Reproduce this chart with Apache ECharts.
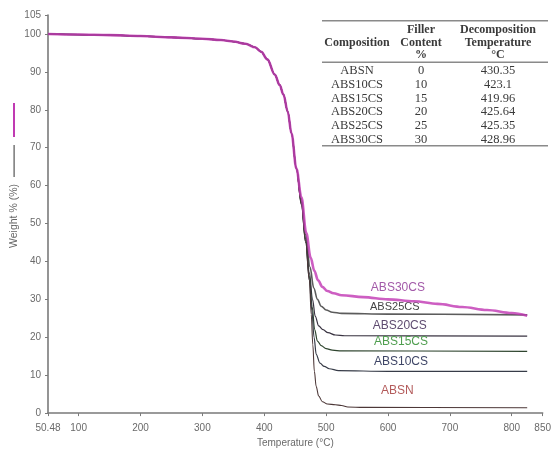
<!DOCTYPE html>
<html>
<head>
<meta charset="utf-8">
<script src="https://cdn.jsdelivr.net/npm/echarts@6/dist/echarts.min.js"></script>
<style>
  html, body { margin: 0; padding: 0; background: #fff; }
  #chart { width: 554px; height: 453px; }
</style>
</head>
<body>
<div id="chart"></div>
<script>
// TGA curves: [temperature °C, weight %]
const earlyStage = [
  [50.48, 100], [100, 99.85], [150, 99.7], [200, 99.45], [250, 99.1], [300, 98.75],
  [330, 98.4], [350, 98.0], [370, 97.4], [385, 96.5], [395, 95.3], [405, 93.3],
  [417, 89.3], [425, 86.5], [431, 84], [438, 79.5], [444, 73.8], [452, 64.5]
];
const absnTail = [
  [460, 55], [467, 45], [473, 35], [476, 26], [478.5, 18], [481, 11], [484, 7],
  [488, 4.5], [494, 3], [502, 2.4], [515, 2.2], [525, 2.0], [535, 1.6], [560, 1.5], [825, 1.4]
];
const abs10Tail = [
  [460, 55], [467, 45], [473, 35], [477, 27], [480.5, 20], [484, 15.5], [490, 13.2],
  [497, 12.3], [505, 11.7], [520, 11.2], [600, 11.0], [825, 11.0]
];
const abs15Tail = [
  [460, 55.5], [467, 45.5], [473, 36], [477.5, 28], [481.5, 22], [486, 19], [492, 17.8],
  [500, 17.0], [510, 16.6], [525, 16.4], [825, 16.3]
];
const abs20Tail = [
  [460, 56], [467, 46], [473, 37], [478, 30], [482.5, 25.5], [488, 23], [495, 22],
  [503, 21.2], [515, 20.6], [530, 20.4], [825, 20.3]
];
const abs25Tail = [
  [460, 56.5], [467, 47], [474, 38.5], [480, 33], [486, 30], [492, 28.2], [500, 27.2],
  [510, 26.6], [525, 26.3], [600, 26.1], [825, 25.9]
];
const abs30Tail = [
  [460, 57], [468, 47.5], [475, 41], [481, 37.5], [487, 35], [494, 33.3], [502, 32.2],
  [512, 31.6], [525, 31.1], [560, 30.6], [600, 30.0], [642, 29.5], [680, 28.8],
  [720, 28.0], [760, 27.2], [800, 26.4], [825, 25.7]
];

// curve label anchors [temperature, weight]
const labelAnchors = {
  ABSN: [615, 5.8],
  ABS10CS: [621, 13.6],
  ABS15CS: [621, 18.9],
  ABS20CS: [619, 23.0],
  ABS25CS: [611, 28.1],
  ABS30CS: [616, 33.0]
};

const xTicks = [50.48, 100, 200, 300, 400, 500, 600, 700, 800, 850];
const yTicks = [0, 10, 20, 30, 40, 50, 60, 70, 80, 90, 100, 105];

// inset table
const tableHeader = [
  ['', 'Filler', 'Decomposition'],
  ['Composition', 'Content', 'Temperature'],
  ['', '%', '°C']
];
const compositions = ['ABSN', 'ABS10CS', 'ABS15CS', 'ABS20CS', 'ABS25CS', 'ABS30CS'];
const fillerContent = ['0', '10', '15', '20', '25', '30'];
const decompTemp = ['430.35', '423.1', '419.96', '425.64', '425.35', '428.96'];

const seriesDefs = [
  { name: 'ABS25CS', tail: abs25Tail, color: '#5c5c5c', width: 1.6, labelColor: '#454545', fs: 11 },
  { name: 'ABS20CS', tail: abs20Tail, color: '#3a3442', width: 1.2, labelColor: '#5e4b70', fs: 12 },
  { name: 'ABS15CS', tail: abs15Tail, color: '#2f452f', width: 1.2, labelColor: '#4f9e4f', fs: 12 },
  { name: 'ABS10CS', tail: abs10Tail, color: '#373c48', width: 1.2, labelColor: '#3e4566', fs: 12 },
  { name: 'ABSN', tail: absnTail, color: '#4d3838', width: 1.1, labelColor: '#b35a5a', fs: 12 },
  { name: 'ABS30CS', tail: abs30Tail, color: '#c23ab4', width: 2.6, opacity: 0.82, labelColor: '#a35aa9', fs: 12 }
];

const series = seriesDefs.map((d, i) => ({
  name: d.name,
  type: 'line',
  data: earlyStage.concat(d.tail),
  showSymbol: false,
  smooth: 0.35,
  smoothMonotone: 'x',
  z: 2 + i,
  lineStyle: { color: d.color, width: d.width, opacity: d.opacity == null ? 1 : d.opacity },
  markPoint: {
    symbol: 'circle',
    symbolSize: 0,
    silent: true,
    label: {
      show: true,
      position: 'inside',
      formatter: d.name,
      color: d.labelColor,
      fontFamily: 'Arial, "Liberation Sans", sans-serif',
      fontSize: d.fs
    },
    data: [{ coord: labelAnchors[d.name] }]
  }
}));

// table graphics
const colX = [357, 421, 498];
const headerY = [30, 42.7, 55];
const rowY0 = 71, rowStep = 13.65;
const serif = '"Liberation Serif", "Times New Roman", serif';
const graphics = [];
function rule(y) {
  graphics.push({
    type: 'line', silent: true,
    shape: { x1: 322, y1: y, x2: 548, y2: y },
    style: { stroke: '#8a8a8a', lineWidth: 1.6 }
  });
}
function cell(txt, x, y, bold) {
  graphics.push({
    type: 'text', silent: true,
    style: {
      text: txt, x: x, y: y, textAlign: 'center', textVerticalAlign: 'middle',
      font: (bold ? 'bold 12px ' : '12.5px ') + serif, fill: '#3a3a3a'
    }
  });
}
rule(20.7); rule(62.3); rule(145.7);
tableHeader.forEach((row, r) => row.forEach((t, c) => { if (t) cell(t, colX[c], headerY[r], true); }));
compositions.forEach((c, i) => {
  const y = rowY0 + i * rowStep;
  cell(c, colX[0], y, false);
  cell(fillerContent[i], colX[1], y, false);
  cell(decompTemp[i], colX[2], y, false);
});

// y axis title with line keys
graphics.push({
  type: 'rect', silent: true,
  shape: { x: 13, y: 103, width: 2, height: 34 },
  style: { fill: '#c03ab2' }
});
graphics.push({
  type: 'rect', silent: true,
  shape: { x: 13.5, y: 145, width: 1.2, height: 32 },
  style: { fill: '#555' }
});
graphics.push({
  type: 'text', silent: true,
  x: 14, y: 216, rotation: Math.PI / 2,
  style: {
    text: 'Weight % (%)', x: 0, y: 0, textAlign: 'center', textVerticalAlign: 'middle',
    font: '10.5px Arial, "Liberation Sans", sans-serif', fill: '#666'
  }
});

const axisFont = { color: '#6a6a6a', fontSize: 10, fontFamily: 'Arial, "Liberation Sans", sans-serif' };

const chart = echarts.init(document.getElementById('chart'), null, { renderer: 'canvas' });
chart.setOption({
  backgroundColor: '#fff',
  animation: false,
  grid: { left: 48, right: 8, top: 15, bottom: 37, containLabel: false },
  xAxis: {
    type: 'value',
    min: 50.48,
    max: 850,
    name: 'Temperature (°C)',
    nameLocation: 'middle',
    nameGap: 24,
    nameTextStyle: Object.assign({}, axisFont),
    axisLine: { lineStyle: { color: '#7a7a7a', width: 1.6 } },
    axisTick: { show: true, length: 3, customValues: xTicks, lineStyle: { color: '#7a7a7a' } },
    axisLabel: Object.assign({ customValues: xTicks, margin: 10, showMinLabel: true, showMaxLabel: true }, axisFont),
    splitLine: { show: false }
  },
  yAxis: {
    type: 'value',
    min: 0,
    max: 105,
    axisLine: { show: true, lineStyle: { color: '#7a7a7a', width: 1.6 } },
    axisTick: { show: true, length: 3, customValues: yTicks, lineStyle: { color: '#7a7a7a' } },
    axisLabel: Object.assign({ customValues: yTicks, margin: 7 }, axisFont),
    splitLine: { show: false }
  },
  series: series,
  graphic: graphics
});
</script>
</body>
</html>
